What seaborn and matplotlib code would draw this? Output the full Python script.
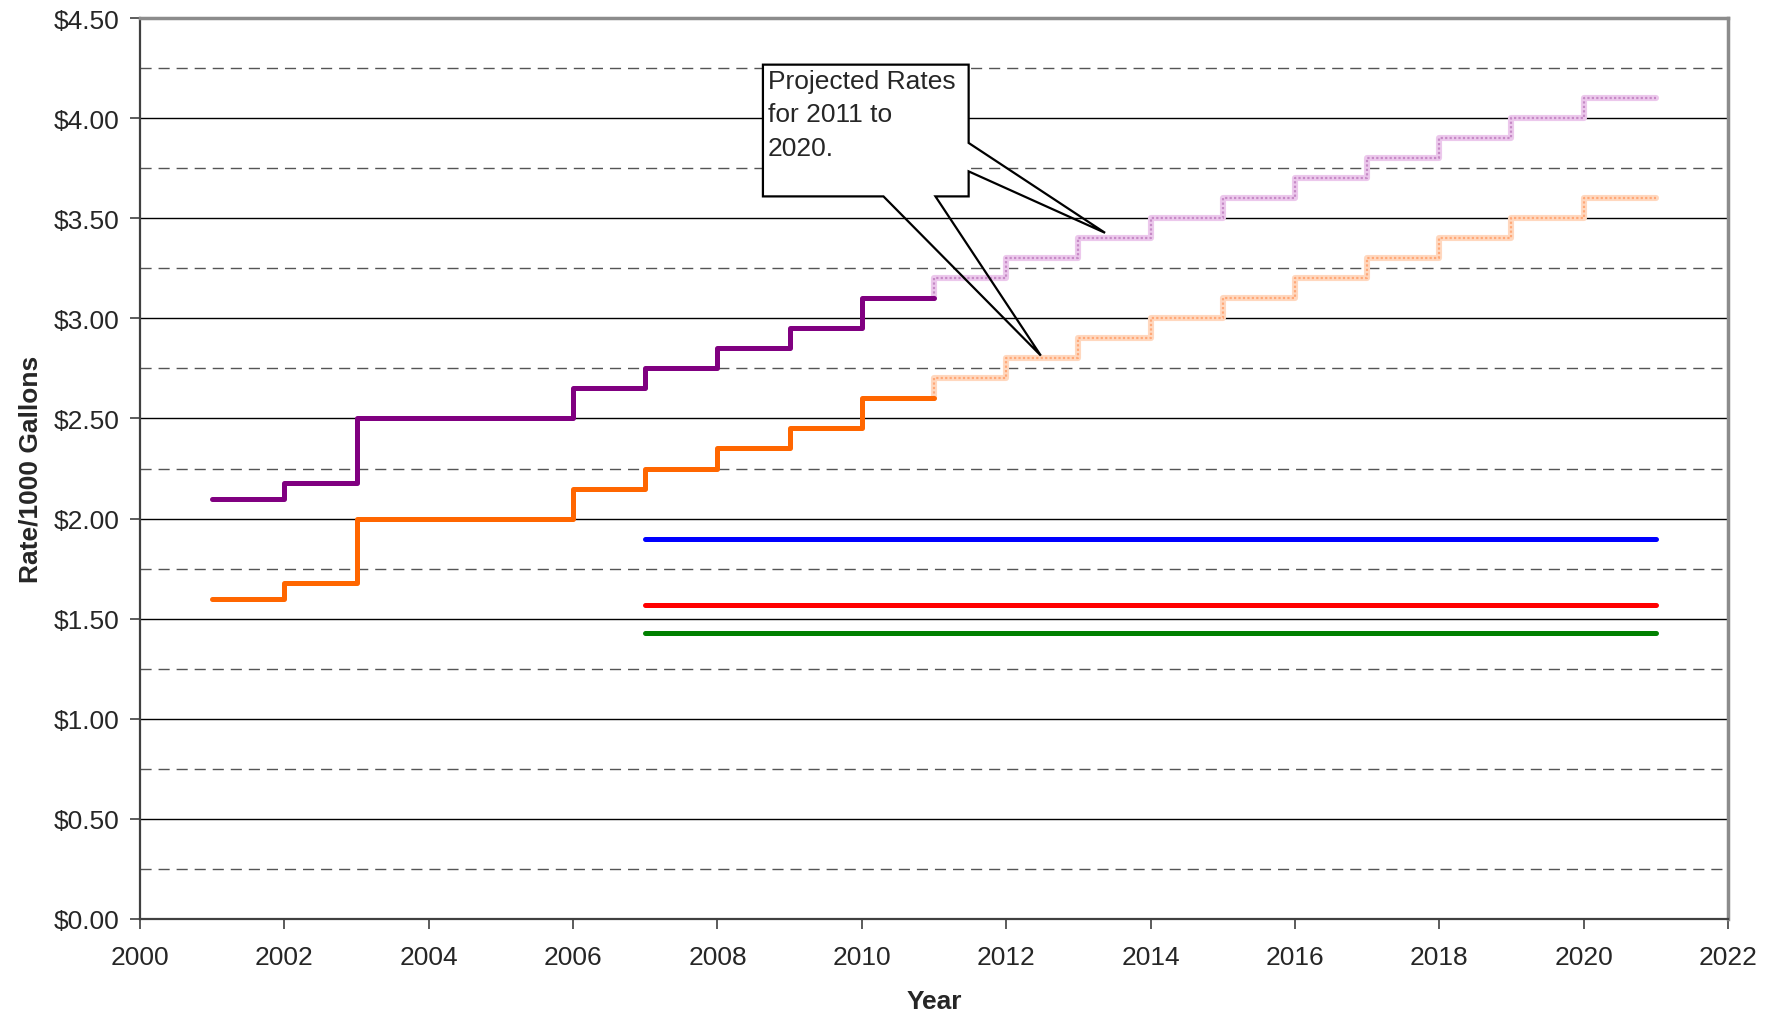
import numpy as np
import pandas as pd
import seaborn as sns
import matplotlib.pyplot as plt
from matplotlib.patches import Polygon, Rectangle
from matplotlib.ticker import MultipleLocator, FuncFormatter

# dados (inicio de cada degrau; o ultimo ponto fecha o degrau)
anos_hist = [2001, 2002, 2003, 2004, 2005, 2006, 2007, 2008, 2009, 2010, 2011]
roxo_hist = [2.10, 2.18, 2.50, 2.50, 2.50, 2.65, 2.75, 2.85, 2.95, 3.10, 3.10]
laranja_hist = [1.60, 1.68, 2.00, 2.00, 2.00, 2.15, 2.25, 2.35, 2.45, 2.60, 2.60]

# projecao: primeiro ponto liga ao ultimo valor historico
anos_proj = [2011, 2011, 2012, 2013, 2014, 2015, 2016, 2017, 2018, 2019, 2020, 2021]
roxo_proj = [3.10, 3.20, 3.30, 3.40, 3.50, 3.60, 3.70, 3.80, 3.90, 4.00, 4.10, 4.10]
laranja_proj = [2.60, 2.70, 2.80, 2.90, 3.00, 3.10, 3.20, 3.30, 3.40, 3.50, 3.60, 3.60]

anos_ref = [2007, 2020, 2021]
azul = [1.90, 1.90, 1.90]
vermelho = [1.57, 1.57, 1.57]
verde = [1.43, 1.43, 1.43]

texto_callout = "Projected Rates\nfor 2011 to\n2020."

sns.set_style("white")
plt.rcParams['font.family'] = ['Liberation Sans', 'DejaVu Sans']

fig = plt.figure(figsize=(17.8, 10.2), dpi=100)
ax = fig.add_axes([140 / 1780, 1 - 920 / 1020, (1728 - 140) / 1780, (920 - 19) / 1020])

df_hist = pd.DataFrame({'Ano': anos_hist, 'roxo': roxo_hist, 'laranja': laranja_hist})
df_proj = pd.DataFrame({'Ano': anos_proj, 'roxo': roxo_proj, 'laranja': laranja_proj})
df_ref = pd.DataFrame({'Ano': anos_ref, 'azul': azul, 'vermelho': vermelho, 'verde': verde})

# linhas de referencia
for col, cor in [('azul', '#0000ff'), ('vermelho', '#ff0000'), ('verde', '#008000')]:
    sns.lineplot(x='Ano', y=col, data=df_ref, ax=ax, color=cor, linewidth=3.6,
                 solid_capstyle='round', zorder=3)

# projecao (linha clara com textura pontilhada)
for col, base, ponto in [('roxo', '#ecc8ec', '#c68ac6'), ('laranja', '#ffd8bf', '#ffa878')]:
    sns.lineplot(x='Ano', y=col, data=df_proj, ax=ax, color=base, linewidth=4.4,
                 drawstyle='steps-post', estimator=None, sort=False, zorder=4)
    sns.lineplot(x='Ano', y=col, data=df_proj, ax=ax, color=ponto, linewidth=1.6,
                 linestyle=(0, (1, 1)), drawstyle='steps-post', estimator=None,
                 sort=False, zorder=4)

# historico
sns.lineplot(x='Ano', y='roxo', data=df_hist, ax=ax, color='#800080', linewidth=3.6,
             drawstyle='steps-post', solid_capstyle='round', zorder=5)
sns.lineplot(x='Ano', y='laranja', data=df_hist, ax=ax, color='#ff6600', linewidth=3.6,
             drawstyle='steps-post', solid_capstyle='round', zorder=5)

ax.set_xlim(2000, 2022)
ax.set_ylim(0, 4.5)
ax.xaxis.set_major_locator(MultipleLocator(2))
ax.yaxis.set_major_locator(MultipleLocator(0.5))
ax.yaxis.set_minor_locator(MultipleLocator(0.25))
ax.yaxis.set_major_formatter(FuncFormatter(lambda v, p: f"${v:.2f}"))
ax.xaxis.set_major_formatter(FuncFormatter(lambda v, p: f"{int(v)}"))

ax.grid(axis='y', which='major', color='black', linewidth=1.0, zorder=1)
ax.grid(axis='y', which='minor', color='#555555', linewidth=1.0, linestyle=(0, (8, 5)), zorder=1)
ax.set_axisbelow(True)

ax.tick_params(axis='both', which='major', direction='out', length=7, width=1.2,
               color='#404040', labelsize=19, pad=8, left=True, bottom=True)
ax.tick_params(axis='x', which='major', pad=12)
ax.tick_params(axis='y', which='minor', length=0)

for lado in ['left', 'bottom']:
    ax.spines[lado].set_color('#404040')
    ax.spines[lado].set_linewidth(1.6)
for lado in ['top', 'right']:
    ax.spines[lado].set_color('#8c8c8c')
    ax.spines[lado].set_linewidth(2.5)

ax.set_xlabel("Year", fontsize=19, fontweight='bold', labelpad=14)
ax.set_ylabel("Rate/1000 Gallons", fontsize=19, fontweight='bold', labelpad=8)

# callout
bx0, bx1, by0, by1 = 2008.63, 2011.48, 3.609, 4.267
ax.add_patch(Rectangle((bx0, by0), bx1 - bx0, by1 - by0, facecolor='white',
                       edgecolor='none', zorder=6))
contorno = [(bx0, by1), (bx1, by1), (bx1, 3.876), (2013.37, 3.427), (bx1, 3.734),
            (bx1, by0), (2011.02, by0), (2012.48, 2.814), (2010.30, by0), (bx0, by0)]
ax.add_patch(Polygon(contorno, closed=True, facecolor='none', edgecolor='black',
                     linewidth=1.6, joinstyle='miter', zorder=7))
ax.text(bx0 + 0.07, by1 - 0.02, texto_callout, fontsize=19, va='top', ha='left',
        linespacing=1.5, zorder=8)

plt.savefig("out.png", dpi=100)
plt.close()
